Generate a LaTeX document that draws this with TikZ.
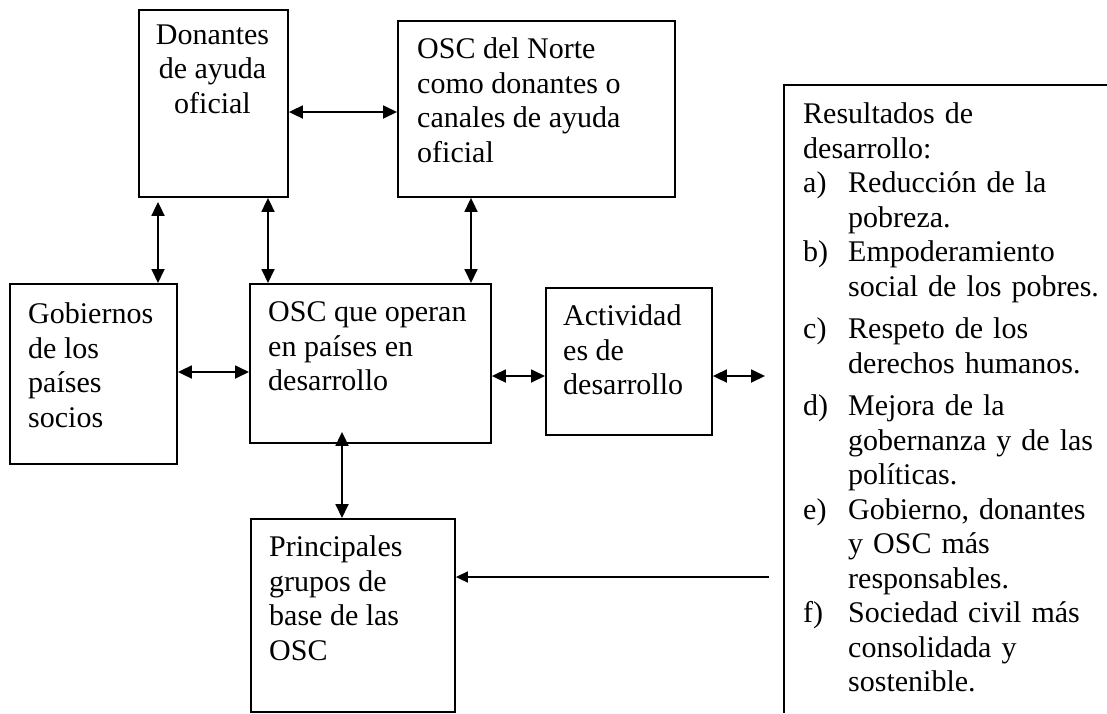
\documentclass[tikz,border=0pt]{standalone}
\usepackage{fontspec}
\setmainfont{Liberation Serif}
\usetikzlibrary{arrows.meta}
\tikzset{
  boxnode/.style={draw=black, line width=1.9pt, rectangle, inner sep=0pt, anchor=north west},
  txt/.style={inner sep=0pt, font=\fontsize{30}{34.5}\selectfont, align=left, anchor=north west},
  dbl/.style={line width=1.8pt, {Triangle[length=14pt,width=13pt]}-{Triangle[length=14pt,width=13pt]}},
  sgl/.style={line width=1.6pt, -{Triangle[length=12pt,width=11pt]}},
  frameline/.style={line width=1.6pt}
}
\begin{document}
\begin{tikzpicture}[x=1pt,y=-1pt]
\useasboundingbox (0,0) rectangle (1107,713);
% boxes
\node[boxnode, minimum width=149pt, minimum height=187pt] (don) at (138,9) {};
\node[boxnode, minimum width=277pt, minimum height=176pt] (norte) at (397,20) {};
\node[boxnode, minimum width=167pt, minimum height=180pt] (gob) at (9,283) {};
\node[boxnode, minimum width=241pt, minimum height=159pt] (osc) at (249,283) {};
\node[boxnode, minimum width=166pt, minimum height=147pt] (act) at (545,287) {};
\node[boxnode, minimum width=204pt, minimum height=193pt] (prin) at (250,518) {};
% texts
\node[txt, align=center, anchor=north] (dontext) at (212.5,24.5) {Donantes\\de ayuda\\oficial};
\node[txt] (nortetext) at (417,37.5) {OSC del Norte\\como donantes o\\canales de ayuda\\oficial};
\node[txt] (gobtext) at (28,302.5) {Gobiernos\\de los\\países\\socios};
\node[txt] (osctext) at (268,301.5) {OSC que operan\\en países en\\desarrollo};
\node[txt] (acttext) at (563,304.5) {Actividad\\es de\\desarrollo};
\node[txt] (printext) at (269,535.5) {Principales\\grupos de\\base de las\\OSC};
% results frame (open to the right and bottom)
\coordinate (resTR) at (1107,85);
\coordinate (resTL) at (784,85);
\coordinate (resBL) at (784,713);
\draw[frameline] (resTR) -- (resTL) -- (resBL);
\node[inner sep=0pt, anchor=north west, text width=320pt, align=left, font=\fontsize{30}{34.5}\selectfont] (restext) at (803,102.5) {%
\parindent=0pt\parskip=0pt
Resultados de\newline desarrollo:\par
\hangindent=45pt\hangafter=1\makebox[45pt][l]{a)}Reducción de la\newline pobreza.\par
\hangindent=45pt\hangafter=1\makebox[45pt][l]{b)}Empoderamiento\newline social de los pobres.\par
\vspace{8pt}
\hangindent=45pt\hangafter=1\makebox[45pt][l]{c)}Respeto de los\newline derechos humanos.\par
\vspace{8pt}
\hangindent=45pt\hangafter=1\makebox[45pt][l]{d)}Mejora de la\newline gobernanza y de las\newline políticas.\par
\hangindent=45pt\hangafter=1\makebox[45pt][l]{e)}Gobierno, donantes\newline y OSC más\newline responsables.\par
\hangindent=45pt\hangafter=1\makebox[45pt][l]{f)}Sociedad civil más\newline consolidada y\newline sostenible.\par
};
% free ends
\coordinate (actR) at (765,376);
\coordinate (resL) at (769,577);
% connectors
\draw[dbl] (don.east |- 0,112) -- (norte.west |- 0,112);
\draw[dbl] ([yshift=-4pt]don.south -| 158,0) -- (gob.north -| 158,0);
\draw[dbl] (don.south -| 268,0) -- (osc.north -| 268,0);
\draw[dbl] (norte.south -| 471,0) -- (osc.north -| 471,0);
\draw[dbl] (gob.east |- 0,372) -- (osc.west |- 0,372);
\draw[dbl] (osc.east |- 0,376) -- (act.west |- 0,376);
\draw[dbl] (act.east |- actR) -- (actR);
\draw[dbl] (prin.north -| 342,0) -- ([yshift=12pt]osc.south -| 342,0);
\draw[sgl] (resL) -- (prin.east |- resL);
\end{tikzpicture}
\end{document}
